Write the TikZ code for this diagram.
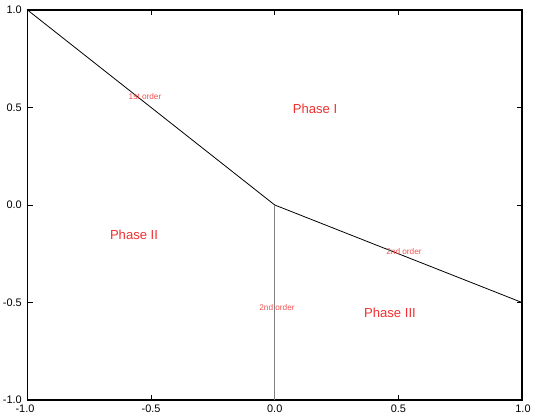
\documentclass[tikz,border=0pt]{standalone}
\usepackage{fontspec}
\setmainfont{Liberation Sans}
\definecolor{lblred}{HTML}{F03030}
\definecolor{smallred}{HTML}{F55050}
\begin{document}
\begin{tikzpicture}[x=0.75pt,y=-0.75pt,
  ticklbl/.style={font=\fontsize{8.2}{9}\selectfont, inner sep=0pt},
  phaselbl/.style={font=\fontsize{9.8}{11}\selectfont, text=lblred, inner sep=0pt},
  orderlbl/.style={font=\fontsize{6.2}{7}\selectfont, text=smallred, inner sep=0pt},
  boundary/.style={line width=0.6pt, black}]
\useasboundingbox (0,0) rectangle (533,415);
% data to pixel: X = 27.5 + 247.25*(x+1), Y = 10 + 195*(1-y)
\coordinate (TL) at (27.5,10);
\coordinate (O) at (274.75,205);
\coordinate (R) at (522,302.5);
\coordinate (B) at (274.75,400);
% frame
\draw[line width=0.8pt] (27.5,10) rectangle (522,400);
% ticks
\foreach \X in {151.1,274.75,398.4}{
  \draw[line width=0.6pt] (\X,400) -- (\X,395);
  \draw[line width=0.6pt] (\X,10) -- (\X,15);
}
\foreach \Y in {107.5,205,302.5}{
  \draw[line width=0.6pt] (27.5,\Y) -- (32.5,\Y);
  \draw[line width=0.6pt] (522,\Y) -- (517,\Y);
}
% y tick labels
\node[ticklbl, anchor=east] (y1) at (22,10) {1.0};
\node[ticklbl, anchor=east] (y2) at (22,107.5) {0.5};
\node[ticklbl, anchor=east] (y3) at (22,205) {0.0};
\node[ticklbl, anchor=east] (y4) at (22,302.5) {-0.5};
\node[ticklbl, anchor=east] (y5) at (22,400) {-1.0};
% x tick labels
\node[ticklbl] (x1) at (25,409) {-1.0};
\node[ticklbl] (x2) at (151.1,409) {-0.5};
\node[ticklbl] (x3) at (274.75,409) {0.0};
\node[ticklbl] (x4) at (398.4,409) {0.5};
\node[ticklbl] (x5) at (523,409) {1.0};
% boundaries
\draw[boundary] (TL) -- (O);
\draw[boundary] (O) -- (R);
\draw[line width=1.1pt, black!50] (O) -- (B);
% labels
\node[orderlbl] (o1) at (145,97) {1st order};
\node[orderlbl] (o2) at (404,252) {2nd order};
\node[orderlbl] (o3) at (277,308) {2nd order};
\node[phaselbl] (p1) at (315,109) {Phase I};
\node[phaselbl] (p2) at (134,235) {Phase II};
\node[phaselbl] (p3) at (390,313) {Phase III};
\end{tikzpicture}
\end{document}
